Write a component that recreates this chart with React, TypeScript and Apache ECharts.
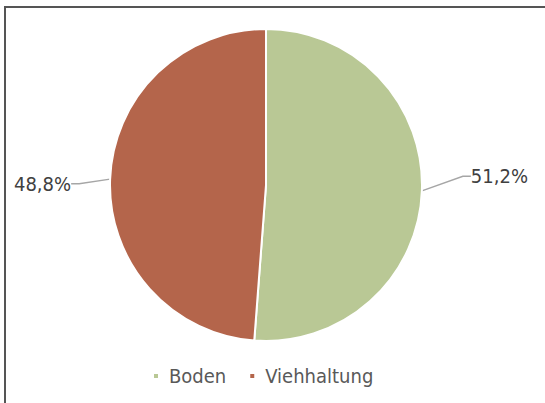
import React, { useEffect, useRef } from "react";
import * as echarts from "echarts";

const categories = ["Boden", "Viehhaltung"];
const values = [51.2, 48.8];
const colors = ["#B9C895", "#B4654B"];
// label nudges (dx, dy) per slice, to match the reference leader layout
const labelShift = [
  [0, -16],
  [10, 6],
];

const FONT = "'DejaVu Sans Condensed', 'DejaVu Sans', sans-serif";

export default function App() {
  const ref = useRef<HTMLDivElement>(null);
  useEffect(() => {
    if (!ref.current) return;
    const chart = echarts.init(ref.current, null, { renderer: "svg" });
    chart.setOption({
      animation: false,
      backgroundColor: "#ffffff",
      legend: {
        bottom: 12,
        left: 147,
        icon: "rect",
        itemWidth: 6,
        itemHeight: 6,
        itemGap: 22,
        data: categories,
        textStyle: {
          fontFamily: FONT,
          fontSize: 20,
          color: "#595959",
          padding: [0, 0, 0, 5],
        },
      },
      graphic: [
        { type: "line", shape: { x1: 5, y1: 7, x2: 545, y2: 7 }, style: { stroke: "#555555", lineWidth: 2 } },
        { type: "line", shape: { x1: 5, y1: 6, x2: 5, y2: 403 }, style: { stroke: "#555555", lineWidth: 2 } },
      ],
      series: [
        {
          type: "pie",
          center: [266, 185],
          radius: 156,
          startAngle: 90,
          clockwise: true,
          itemStyle: { borderColor: "#ffffff", borderWidth: 2 },
          label: {
            show: true,
            position: "outside",
            overflow: "none",
            formatter: (p: any) => p.value.toFixed(1).replace(".", ",") + "%",
            fontFamily: FONT,
            fontSize: 20,
            color: "#404040",
          },
          labelLine: {
            show: true,
            length: 36,
            length2: 8,
            lineStyle: { color: "#A6A6A6", width: 1.5 },
          },
          labelLayout: (p: any) => {
            const r = p.labelRect;
            const right = p.dataIndex === 0;
            return {
              x: (right ? r.x : r.x + r.width) + labelShift[p.dataIndex][0],
              y: r.y + r.height / 2 + labelShift[p.dataIndex][1],
              align: right ? "left" : "right",
              verticalAlign: "middle",
            };
          },
          data: categories.map((c, i) => ({
            name: c,
            value: values[i],
            itemStyle: { color: colors[i] },
          })),
        },
      ],
    });
    return () => chart.dispose();
  }, []);
  return (
    <div
      ref={ref}
      style={{ position: "fixed", left: 0, top: 0, width: 545, height: 403 }}
    />
  );
}
